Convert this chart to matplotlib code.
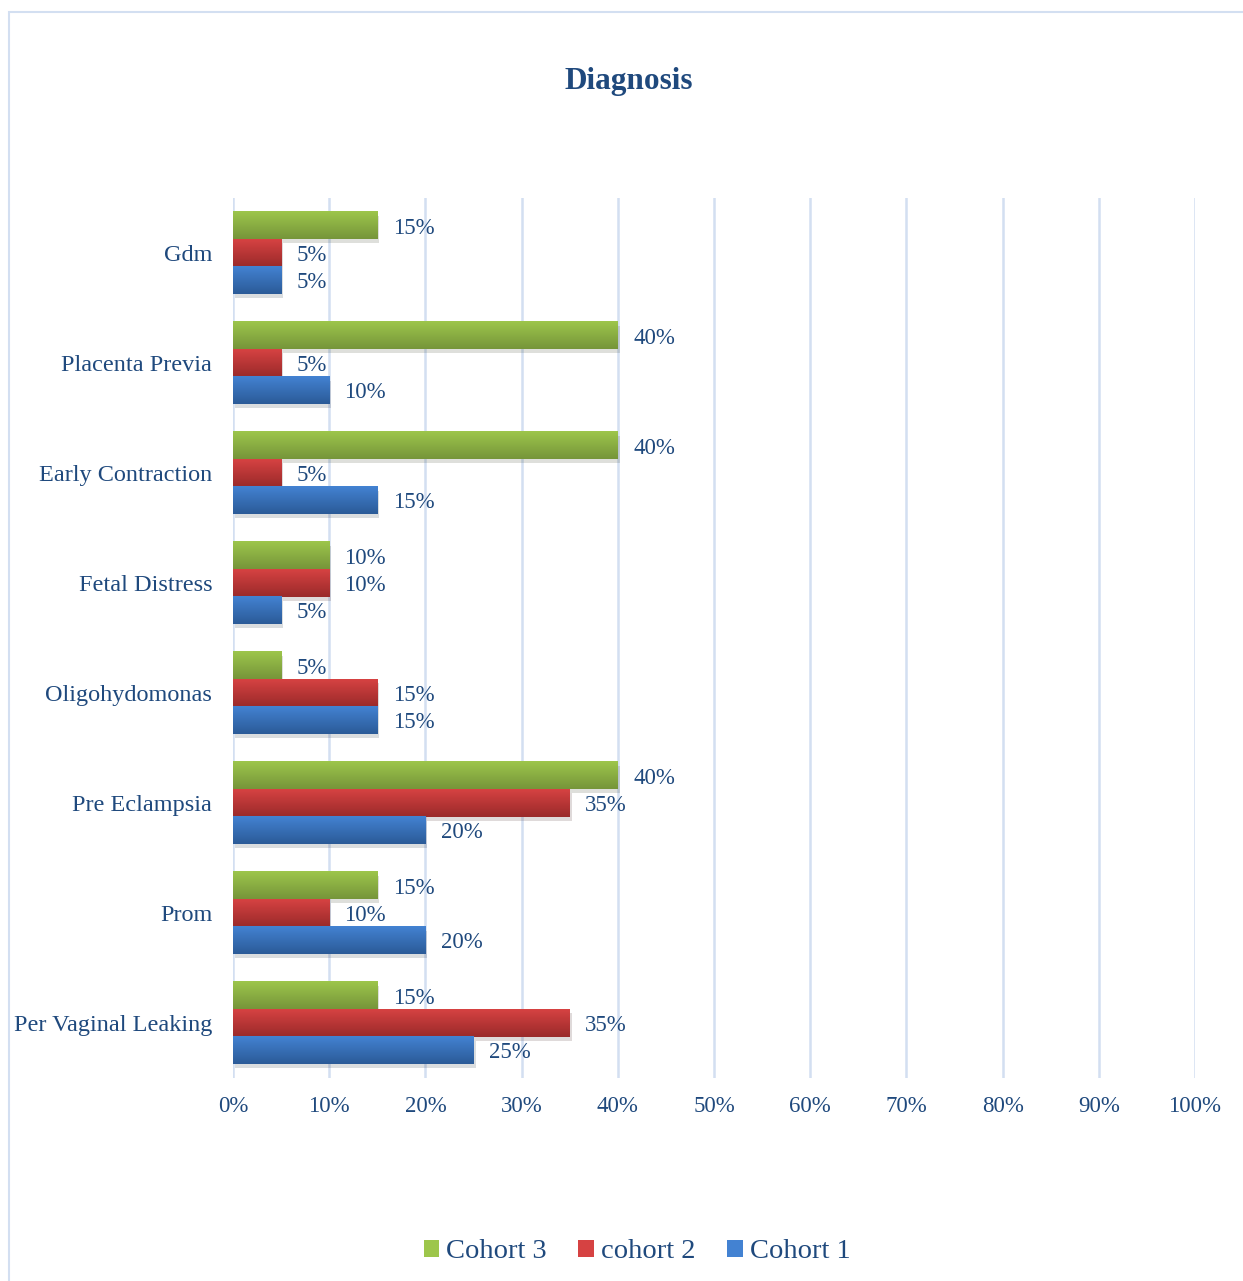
import numpy as np
import matplotlib
matplotlib.use('Agg')
import matplotlib.pyplot as plt
from matplotlib.patches import Patch, Rectangle
from matplotlib.colors import LinearSegmentedColormap
import matplotlib.patheffects as pe


categories = ['Gdm', 'Placenta Previa', 'Early Contraction', 'Fetal Distress',
              'Oligohydomonas', 'Pre Eclampsia', 'Prom', 'Per Vaginal Leaking']
cohort3 = [15, 40, 40, 10, 5, 40, 15, 15]
cohort2 = [5, 5, 5, 10, 15, 35, 10, 35]
cohort1 = [5, 10, 15, 5, 15, 20, 20, 25]
series_names = ['Cohort 3', 'cohort 2', 'Cohort 1']
x_ticks = [0, 10, 20, 30, 40, 50, 60, 70, 80, 90, 100]

# (top colour, bottom colour) for the gradient fill
shades = [('#9DC64B', '#76953A'), ('#D64242', '#9A2A2A'), ('#4382D2', '#2B5B98')]
text_color = '#1F497D'
grid_color = '#D3DFF1'

plt.rcParams['font.family'] = ['Liberation Serif', 'DejaVu Serif']

fig = plt.figure(figsize=(12.43, 12.81), dpi=100)
ax = fig.add_axes([233 / 1243, 1 - 1078 / 1281, (1195 - 233) / 1243, (1078 - 198) / 1281])

# outer chart frame (runs off the right and bottom edge)
fig.add_artist(Rectangle((9 / 1243, -0.1), 2, 1 - 12 / 1281 + 0.1, transform=fig.transFigure,
                         fill=False, edgecolor=grid_color, lw=1.5))

y = np.arange(len(categories))
h = 0.25
offsets = [-h, 0, h]
shadow = [pe.SimplePatchShadow(offset=(1.5, -3), alpha=0.15), pe.Normal()]

for vals, off, (top, bot) in zip([cohort3, cohort2, cohort1], offsets, shades):
    bars = ax.barh(y + off, vals, height=h, color=bot, zorder=3, path_effects=shadow)
    cmap = LinearSegmentedColormap.from_list('g', [top, bot])
    grad = np.linspace(0, 1, 64).reshape(-1, 1)
    for bar, v in zip(bars, vals):
        x0, y0 = bar.get_xy()
        ax.imshow(grad, cmap=cmap, aspect='auto', origin='upper', zorder=4,
                  extent=[x0, x0 + bar.get_width(), y0 + bar.get_height(), y0])
        ax.annotate(f'{v}%', (v, y0 + bar.get_height() / 2), xytext=(11, 0),
                    textcoords='offset points', va='center_baseline', ha='left',
                    fontsize=16.5, color=text_color, zorder=5)

ax.set_xlim(0, 100)
ax.set_ylim(len(categories) - 0.5, -0.5)
ax.set_xticks(x_ticks)
ax.set_xticklabels([f'{t}%' for t in x_ticks])
ax.set_yticks(y)
ax.set_yticklabels(categories)
ax.tick_params(axis='x', length=0, pad=13, labelsize=16.5, labelcolor=text_color)
ax.tick_params(axis='y', length=0, pad=15, labelsize=17.5, labelcolor=text_color)
ax.xaxis.grid(True, color=grid_color, lw=1.8, zorder=0)
ax.set_axisbelow(True)
for s in ax.spines.values():
    s.set_visible(False)

fig.text(629 / 1243, 1 - 81 / 1281, 'Diagnosis', ha='center', va='center',
         fontsize=22.5, fontweight='bold', color=text_color)

handles = [Patch(facecolor=c[0]) for c in shades]
fig.legend(handles, series_names, loc='center', bbox_to_anchor=(637 / 1243, 1 - 1252 / 1281),
           ncol=3, frameon=False, fontsize=20.5, handlelength=0.55, handleheight=0.55,
           handletextpad=0.25, columnspacing=1.1, labelcolor=text_color)

fig.savefig('out.png', dpi=100)
